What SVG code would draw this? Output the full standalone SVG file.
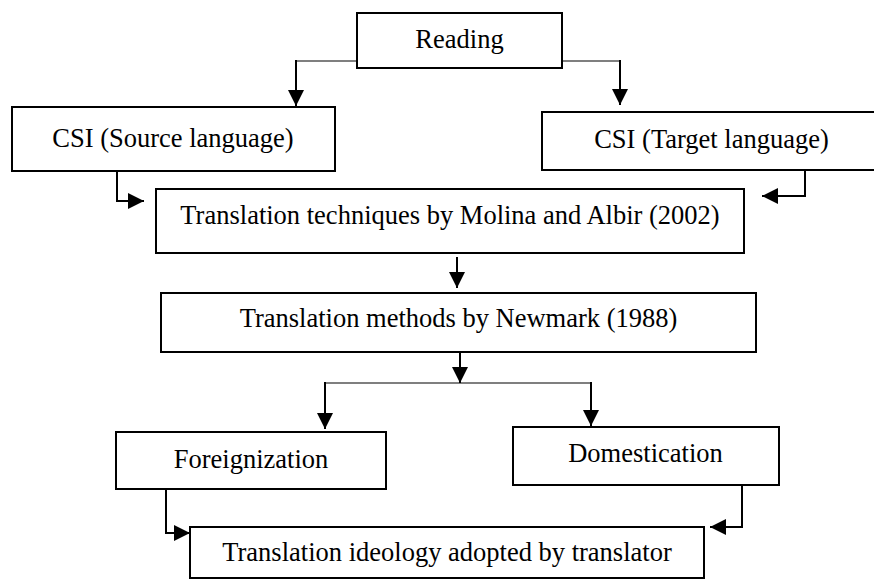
<svg xmlns="http://www.w3.org/2000/svg" width="874" height="579" viewBox="0 0 874 579">
  <style>
    .box { fill: #ffffff; stroke: #000000; stroke-width: 2; }
    .lbl { font-family: "Liberation Serif", "Times New Roman", serif; font-size: 26.5px; fill: #000000; text-anchor: middle; }
    .ln { fill: none; stroke: #000000; stroke-width: 2; }
    .thin { fill: none; stroke: #000000; stroke-width: 1.2; }
    .arr { fill: none; stroke: #000000; stroke-width: 2; marker-end: url(#ah); }
  </style>
  <defs>
    <marker id="ah" markerUnits="userSpaceOnUse" markerWidth="16" markerHeight="16" refX="16" refY="8" orient="auto">
      <path d="M0,0 L16,8 L0,16 Z" fill="#000000"/>
    </marker>
  </defs>
  <rect x="0" y="0" width="874" height="579" fill="#ffffff"/>

  <g id="connectors">
    <path class="thin" d="M357,61 H296"/>
    <path class="arr" d="M296,60 V106"/>
    <path class="thin" d="M562,61 H620"/>
    <path class="arr" d="M620,60 V105"/>
    <path class="arr" d="M117,170 V201 H144"/>
    <path class="arr" d="M805,170 V196 H762"/>
    <path class="arr" d="M457,257 V288"/>
    <path class="arr" d="M460,351 V383"/>
    <path class="thin" d="M325,383 H591"/>
    <path class="arr" d="M325,382 V429"/>
    <path class="arr" d="M591,382 V426"/>
    <path class="arr" d="M166,489 V533 H190"/>
    <path class="arr" d="M742,485 V527 H710"/>
  </g>

  <g id="reading">
    <rect class="box" x="357" y="13" width="205" height="55"/>
    <text class="lbl" x="459.5" y="48">Reading</text>
  </g>
  <g id="csi-source">
    <rect class="box" x="12" y="107" width="323" height="64"/>
    <text class="lbl" x="173" y="147">CSI (Source language)</text>
  </g>
  <g id="csi-target">
    <rect class="box" x="542" y="112" width="340" height="58"/>
    <text class="lbl" x="711.5" y="148">CSI (Target language)</text>
  </g>
  <g id="techniques">
    <rect class="box" x="156" y="189" width="588" height="64"/>
    <text class="lbl" x="450" y="224">Translation techniques by Molina and Albir (2002)</text>
  </g>
  <g id="methods">
    <rect class="box" x="161" y="293" width="595" height="59"/>
    <text class="lbl" x="458.5" y="327">Translation methods by Newmark (1988)</text>
  </g>
  <g id="foreignization">
    <rect class="box" x="116" y="432" width="270" height="57"/>
    <text class="lbl" x="251" y="468">Foreignization</text>
  </g>
  <g id="domestication">
    <rect class="box" x="513" y="427" width="266" height="58"/>
    <text class="lbl" x="645.5" y="462">Domestication</text>
  </g>
  <g id="ideology">
    <rect class="box" x="190" y="527" width="514" height="51"/>
    <text class="lbl" x="447" y="561">Translation ideology adopted by translator</text>
  </g>
</svg>
